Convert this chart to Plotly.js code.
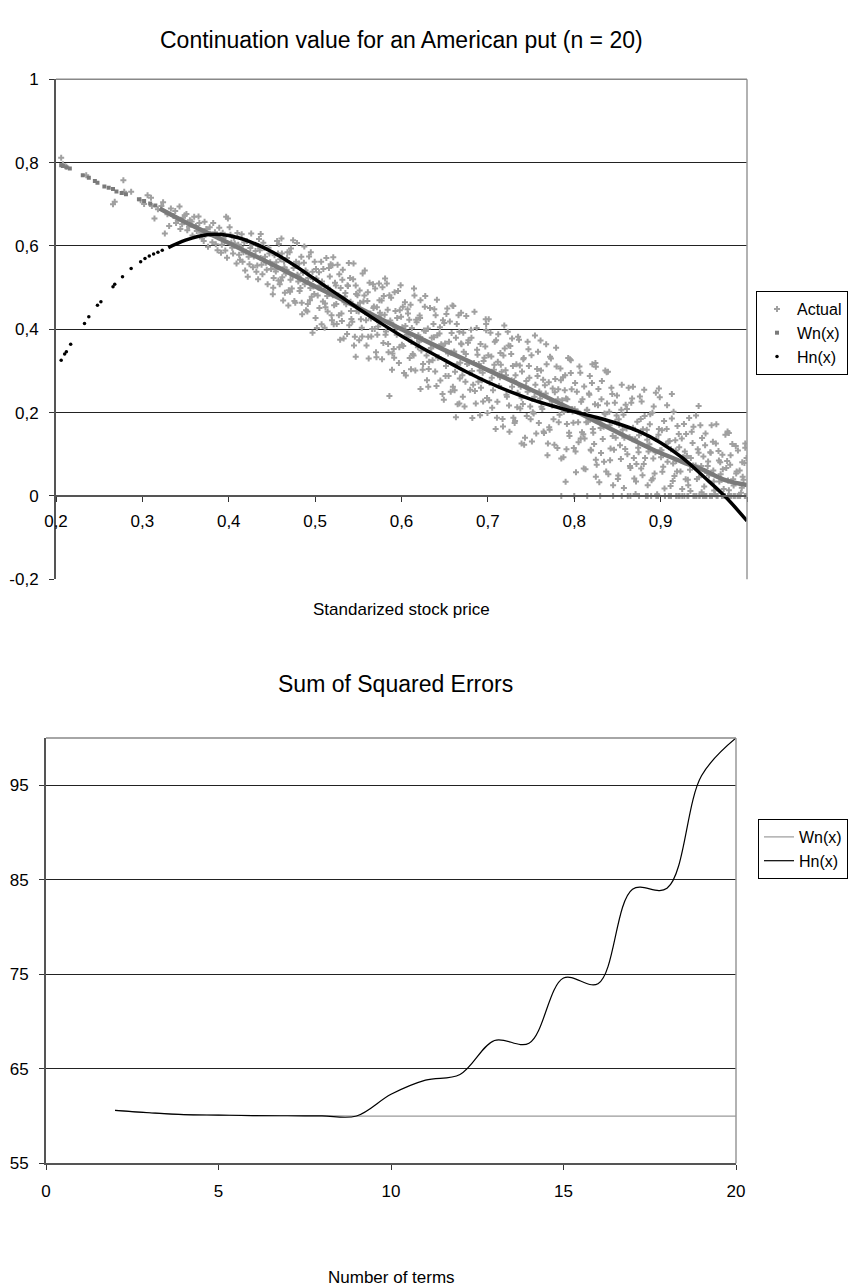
<!DOCTYPE html>
<html><head><meta charset="utf-8">
<script src="https://cdn.plot.ly/plotly-3.0.1.min.js"></script>
<style>html,body{margin:0;padding:0;background:#fff}#chart{width:850px;height:1288px}</style>
</head><body><div id="chart"></div>
<script>
// ---------- Top chart: continuation value (n = 20) ----------
// "Actual" cloud, read region by region from the reference (x = standardized price, y = value)
const actualX = [
0.206,0.208,0.212,0.235,0.266,0.268,0.278,0.279,0.287,0.298,0.310,0.311,0.314,0.322,0.326,0.331,0.333,0.336,0.339,0.343,
0.344,0.347,0.349,0.352,0.355,0.358,0.360,0.362,0.365,0.368,0.371,0.372,0.374,0.376,0.379,0.382,0.385,0.388,0.391,0.393,
0.395,0.397,0.398,0.399,0.401,0.403,0.404,0.406,0.409,0.411,0.413,0.415,0.417,0.419,0.421,0.422,0.423,0.425,0.426,0.428,
0.431,0.433,0.434,0.434,0.435,0.437,0.437,0.439,0.441,0.443,0.445,0.447,0.449,
0.302,0.306,0.318,0.324,0.329,0.338,0.341,0.346,0.351,0.354,0.357,0.363,0.366,0.369,0.373,0.378,0.381,0.384,0.387,0.389,
0.392,0.394,0.396,0.402,0.405,0.407,0.410,0.412,0.414,0.416,0.418,0.420,0.424,0.427,0.429,0.432,0.436,0.438,0.440,0.442,
0.444,0.446,0.448,
0.451,0.452,0.454,0.455,0.457,0.458,0.459, 0.461,0.462,0.464,0.465,0.467,0.468,0.469,
0.471,0.472,0.474,0.475,0.477,0.478,0.479, 0.481,0.482,0.484,0.485,0.487,0.488,0.489,
0.491,0.492,0.494,0.495,0.497,0.498,0.499, 0.501,0.502,0.504,0.505,0.507,0.508,0.509,
0.511,0.512,0.514,0.515,0.517,0.518,0.519, 0.521,0.522,0.524,0.525,0.527,0.528,0.529,
0.531,0.532,0.534,0.535,0.537,0.538,0.539, 0.541,0.542,0.544,0.545,0.547,0.548,0.549,
0.551,0.552,0.554,0.555,0.557,0.558,0.559, 0.561,0.562,0.564,0.565,0.567,0.568,0.569,
0.571,0.572,0.574,0.575,0.577,0.578,0.579, 0.581,0.582,0.584,0.585,0.587,0.588,0.589,
0.591,0.592,0.594,0.595,0.597,0.598,0.599, 0.601,0.602,0.604,0.605,0.607,0.608,0.609,
0.611,0.612,0.614,0.615,0.617,0.618,0.619, 0.621,0.622,0.624,0.625,0.627,0.628,0.629,
0.631,0.632,0.634,0.635,0.637,0.638,0.639, 0.641,0.642,0.644,0.645,0.647,0.648,0.649,
0.651,0.652,0.654,0.655,0.657,0.658,0.659, 0.661,0.662,0.664,0.665,0.667,0.668,0.669,
0.671,0.672,0.674,0.675,0.677,0.678,0.679, 0.681,0.682,0.684,0.685,0.687,0.688,0.689,
0.691,0.692,0.694,0.695,0.697,0.698,0.699, 0.701,0.702,0.704,0.705,0.707,0.708,0.709,
0.711,0.712,0.714,0.715,0.717,0.718,0.719, 0.721,0.722,0.724,0.725,0.727,0.728,0.729,
0.731,0.732,0.734,0.735,0.737,0.738,0.739, 0.741,0.742,0.744,0.745,0.747,0.748,0.749,
0.751,0.752,0.754,0.755,0.757,0.758,0.759, 0.761,0.762,0.764,0.765,0.767,0.768,0.769,
0.771,0.772,0.774,0.775,0.777,0.778,0.779, 0.781,0.782,0.784,0.785,0.787,0.788,0.789,
0.791,0.792,0.794,0.795,0.797,0.798,0.799, 0.801,0.802,0.804,0.805,0.807,0.808,0.809,
0.811,0.812,0.814,0.815,0.817,0.818,0.819, 0.821,0.822,0.824,0.825,0.827,0.828,0.829,
0.831,0.832,0.834,0.835,0.837,0.838,0.839, 0.841,0.842,0.844,0.845,0.847,0.848,0.849,
0.851,0.852,0.854,0.855,0.857,0.858,0.859, 0.861,0.862,0.864,0.865,0.867,0.868,0.869,
0.871,0.872,0.874,0.875,0.877,0.878,0.879, 0.881,0.882,0.884,0.885,0.887,0.888,0.889,
0.891,0.892,0.894,0.895,0.897,0.898,0.899, 0.901,0.902,0.904,0.905,0.907,0.908,0.909,
0.911,0.912,0.914,0.915,0.917,0.918,0.919, 0.921,0.922,0.924,0.925,0.927,0.928,0.929,
0.931,0.932,0.934,0.935,0.937,0.938,0.939, 0.941,0.942,0.944,0.945,0.947,0.948,0.949,
0.951,0.952,0.954,0.955,0.957,0.958,0.959, 0.961,0.962,0.964,0.965,0.967,0.968,0.969,
0.971,0.972,0.974,0.975,0.977,0.978,0.979, 0.981,0.982,0.984,0.985,0.987,0.988,0.989,
0.991,0.992,0.994,0.995,0.997,0.998,0.999,
0.4505,0.4515,0.453,0.4545,0.456,0.4575,0.4595, 0.4605,0.4615,0.463,0.4645,0.466,0.4675,0.4695,
0.4705,0.4715,0.473,0.4745,0.476,0.4775,0.4795, 0.4805,0.4815,0.483,0.4845,0.486,0.4875,0.4895,
0.4905,0.4915,0.493,0.4945,0.496,0.4975,0.4995, 0.5005,0.5015,0.503,0.5045,0.506,0.5075,0.5095,
0.5105,0.5115,0.513,0.5145,0.516,0.5175,0.5195, 0.5205,0.5215,0.523,0.5245,0.526,0.5275,0.5295,
0.5305,0.5315,0.533,0.5345,0.536,0.5375,0.5395, 0.5405,0.5415,0.543,0.5445,0.546,0.5475,0.5495,
0.5505,0.5515,0.553,0.5545,0.556,0.5575,0.5595, 0.5605,0.5615,0.563,0.5645,0.566,0.5675,0.5695,
0.5705,0.5715,0.573,0.5745,0.576,0.5775,0.5795, 0.5805,0.5815,0.583,0.5845,0.586,0.5875,0.5895,
0.5905,0.5915,0.593,0.5945,0.596,0.5975,0.5995, 0.6005,0.6015,0.603,0.6045,0.606,0.6075,0.6095,
0.6105,0.6115,0.613,0.6145,0.616,0.6175,0.6195, 0.6205,0.6215,0.623,0.6245,0.626,0.6275,0.6295,
0.6305,0.6315,0.633,0.6345,0.636,0.6375,0.6395, 0.6405,0.6415,0.643,0.6445,0.646,0.6475,0.6495,
0.6505,0.6515,0.653,0.6545,0.656,0.6575,0.6595, 0.6605,0.6615,0.663,0.6645,0.666,0.6675,0.6695,
0.6705,0.6715,0.673,0.6745,0.676,0.6775,0.6795, 0.6805,0.6815,0.683,0.6845,0.686,0.6875,0.6895,
0.6905,0.6915,0.693,0.6945,0.696,0.6975,0.6995, 0.7005,0.7015,0.703,0.7045,0.706,0.7075,0.7095,
0.7105,0.7115,0.713,0.7145,0.716,0.7175,0.7195, 0.7205,0.7215,0.723,0.7245,0.726,0.7275,0.7295,
0.7305,0.7315,0.733,0.7345,0.736,0.7375,0.7395, 0.7405,0.7415,0.743,0.7445,0.746,0.7475,0.7495,
0.7505,0.7515,0.753,0.7545,0.756,0.7575,0.7595, 0.7605,0.7615,0.763,0.7645,0.766,0.7675,0.7695,
0.7705,0.7715,0.773,0.7745,0.776,0.7775,0.7795, 0.7805,0.7815,0.783,0.7845,0.786,0.7875,0.7895,
0.7905,0.7915,0.793,0.7945,0.796,0.7975,0.7995, 0.8005,0.8015,0.803,0.8045,0.806,0.8075,0.8095,
0.8105,0.8115,0.813,0.8145,0.816,0.8175,0.8195, 0.8205,0.8215,0.823,0.8245,0.826,0.8275,0.8295,
0.8305,0.8315,0.833,0.8345,0.836,0.8375,0.8395, 0.8405,0.8415,0.843,0.8445,0.846,0.8475,0.8495,
0.8505,0.8515,0.853,0.8545,0.856,0.8575,0.8595, 0.8605,0.8615,0.863,0.8645,0.866,0.8675,0.8695,
0.8705,0.8715,0.873,0.8745,0.876,0.8775,0.8795, 0.8805,0.8815,0.883,0.8845,0.886,0.8875,0.8895,
0.8905,0.8915,0.893,0.8945,0.896,0.8975,0.8995, 0.9005,0.9015,0.903,0.9045,0.906,0.9075,0.9095,
0.9105,0.9115,0.913,0.9145,0.916,0.9175,0.9195, 0.9205,0.9215,0.923,0.9245,0.926,0.9275,0.9295,
0.9305,0.9315,0.933,0.9345,0.936,0.9375,0.9395, 0.9405,0.9415,0.943,0.9445,0.946,0.9475,0.9495,
0.9505,0.9515,0.953,0.9545,0.956,0.9575,0.9595, 0.9605,0.9615,0.963,0.9645,0.966,0.9675,0.9695,
0.9705,0.9715,0.973,0.9745,0.976,0.9775,0.9795, 0.9805,0.9815,0.983,0.9845,0.986,0.9875,0.9895,
0.9905,0.9915,0.993,0.9945,0.996,0.9975,0.9995,
0.497,0.547,0.586,0.663,0.667,0.520,0.574,0.622,0.660,0.669,0.698,0.728,0.746,0.796,0.825,0.836,0.868,0.898,0.913,0.944,
0.979,0.998,0.739,0.790,0.825,
0.785,0.800,0.815,0.830,0.845,0.855,0.865,0.875,0.885,0.895,0.905,0.912,0.918,0.925,0.932,0.938,0.945,0.952,0.958,0.965,
0.972,0.978,0.985,0.992,0.998
];
const actualY = [
0.812,0.796,0.790,0.770,0.700,0.706,0.758,0.730,0.730,0.710,0.716,0.696,0.666,0.696,0.630,0.648,0.690,0.672,0.655,0.695,
0.641,0.668,0.674,0.638,0.662,0.625,0.670,0.648,0.671,0.632,0.612,0.658,0.641,0.598,0.629,0.655,0.604,0.621,0.584,0.632,
0.611,0.670,0.572,0.666,0.645,0.608,0.596,0.620,0.558,0.603,0.567,0.628,0.585,0.541,0.612,0.526,0.574,0.595,0.630,0.549,
0.588,0.553,0.600,0.520,0.617,0.629,0.571,0.532,0.596,0.560,0.508,0.582,0.545,
0.701,0.722,0.688,0.705,0.676,0.684,0.661,0.652,0.677,0.646,0.659,0.636,0.655,0.618,0.627,0.645,0.609,0.633,0.590,0.644,
0.603,0.619,0.589,0.627,0.582,0.606,0.631,0.579,0.598,0.562,0.609,0.586,0.556,0.603,0.575,0.538,0.590,0.555,0.608,0.574,
0.543,0.596,0.561,
0.484,0.523,0.544,0.561,0.582,0.605,0.508, 0.618,0.525,0.563,0.488,0.543,0.585,0.457,
0.490,0.594,0.528,0.547,0.464,0.562,0.607, 0.527,0.492,0.574,0.436,0.560,0.508,0.541,
0.443,0.523,0.470,0.585,0.538,0.503,0.485, 0.545,0.403,0.500,0.451,0.562,0.515,0.467,
0.404,0.453,0.480,0.500,0.527,0.556,0.434, 0.573,0.458,0.505,0.413,0.481,0.532,0.375,
0.420,0.543,0.465,0.487,0.389,0.504,0.559, 0.466,0.425,0.520,0.361,0.505,0.444,0.482,
0.374,0.464,0.404,0.534,0.481,0.441,0.422, 0.489,0.330,0.438,0.383,0.508,0.455,0.401,
0.333,0.387,0.417,0.440,0.469,0.501,0.367, 0.522,0.395,0.447,0.345,0.421,0.476,0.303,
0.353,0.489,0.403,0.427,0.319,0.446,0.506, 0.405,0.360,0.465,0.289,0.448,0.381,0.423,
0.304,0.403,0.337,0.481,0.423,0.379,0.357, 0.433,0.257,0.377,0.317,0.454,0.396,0.337,
0.262,0.322,0.355,0.380,0.413,0.448,0.299, 0.471,0.332,0.390,0.277,0.360,0.422,0.231,
0.288,0.437,0.342,0.370,0.250,0.391,0.457, 0.347,0.298,0.413,0.220,0.394,0.320,0.366,
0.238,0.346,0.274,0.432,0.368,0.319,0.295, 0.380,0.187,0.319,0.252,0.403,0.339,0.274,
0.194,0.260,0.296,0.324,0.359,0.398,0.235, 0.424,0.272,0.335,0.212,0.303,0.370,0.161,
0.226,0.388,0.285,0.315,0.185,0.337,0.409, 0.290,0.238,0.361,0.154,0.341,0.262,0.312,
0.175,0.290,0.213,0.382,0.313,0.262,0.236, 0.328,0.123,0.263,0.192,0.352,0.284,0.215,
0.131,0.201,0.238,0.267,0.305,0.346,0.175, 0.373,0.214,0.279,0.151,0.246,0.316,0.098,
0.165,0.334,0.227,0.258,0.123,0.281,0.356, 0.232,0.177,0.306,0.090,0.285,0.202,0.254,
0.112,0.232,0.152,0.328,0.256,0.203,0.176, 0.271,0.057,0.203,0.129,0.296,0.226,0.153,
0.066,0.138,0.177,0.207,0.246,0.288,0.111, 0.316,0.152,0.220,0.087,0.185,0.257,0.033,
0.103,0.276,0.166,0.198,0.059,0.222,0.298, 0.170,0.114,0.245,0.026,0.224,0.140,0.193,
0.049,0.171,0.089,0.267,0.195,0.140,0.113, 0.209,0.000,0.141,0.067,0.234,0.164,0.091,
0.005,0.077,0.116,0.146,0.185,0.227,0.050, 0.255,0.091,0.159,0.026,0.124,0.196,0.000,
0.042,0.215,0.105,0.137,0.000,0.161,0.237, 0.110,0.058,0.180,0.000,0.161,0.082,0.131,
0.000,0.112,0.036,0.202,0.134,0.084,0.059, 0.149,0.000,0.086,0.017,0.173,0.107,0.040,
0.000,0.026,0.063,0.091,0.127,0.166,0.000, 0.193,0.041,0.104,0.000,0.072,0.139,0.000,
0.000,0.150,0.055,0.083,0.000,0.104,0.170, 0.061,0.013,0.126,0.000,0.108,0.035,0.081,
0.000,0.064,0.000,0.147,0.084,0.037,0.014, 0.098,0.000,0.040,0.000,0.120,0.059,0.000,
0.000,0.000,0.020,0.046,0.079,0.116,0.000,
0.555,0.500,0.578,0.539,0.612,0.517,0.568, 0.517,0.582,0.469,0.549,0.534,0.571,0.494,
0.585,0.519,0.498,0.614,0.468,0.553,0.531, 0.515,0.558,0.499,0.464,0.536,0.599,0.446,
0.536,0.461,0.575,0.499,0.478,0.521,0.562, 0.427,0.522,0.481,0.537,0.505,0.412,0.545,
0.504,0.462,0.571,0.443,0.547,0.487,0.422, 0.482,0.412,0.512,0.461,0.555,0.434,0.499,
0.438,0.519,0.378,0.479,0.460,0.506,0.410, 0.523,0.444,0.418,0.558,0.382,0.485,0.458,
0.443,0.493,0.424,0.383,0.467,0.541,0.361, 0.468,0.382,0.512,0.426,0.401,0.451,0.498,
0.345,0.453,0.407,0.470,0.434,0.328,0.480, 0.435,0.387,0.510,0.365,0.482,0.415,0.342,
0.411,0.332,0.444,0.387,0.492,0.357,0.430, 0.363,0.454,0.295,0.408,0.387,0.438,0.331,
0.459,0.370,0.341,0.498,0.301,0.417,0.386, 0.370,0.427,0.349,0.303,0.397,0.480,0.278,
0.402,0.305,0.451,0.354,0.326,0.381,0.434, 0.264,0.386,0.333,0.405,0.364,0.245,0.415,
0.366,0.312,0.450,0.288,0.419,0.344,0.262, 0.343,0.254,0.380,0.316,0.434,0.282,0.364,
0.290,0.392,0.215,0.341,0.317,0.374,0.255, 0.399,0.300,0.267,0.442,0.222,0.351,0.317,
0.301,0.365,0.278,0.227,0.332,0.424,0.199, 0.338,0.230,0.392,0.284,0.254,0.315,0.374,
0.188,0.322,0.264,0.343,0.298,0.167,0.354, 0.302,0.243,0.394,0.217,0.360,0.278,0.188,
0.276,0.180,0.316,0.248,0.375,0.210,0.299, 0.221,0.331,0.140,0.276,0.250,0.312,0.184,
0.338,0.233,0.198,0.385,0.150,0.288,0.251, 0.234,0.301,0.209,0.155,0.266,0.364,0.126,
0.273,0.159,0.330,0.217,0.184,0.249,0.311, 0.115,0.256,0.195,0.278,0.230,0.093,0.290,
0.234,0.173,0.331,0.144,0.295,0.209,0.115, 0.208,0.107,0.250,0.177,0.311,0.138,0.232,
0.148,0.263,0.064,0.206,0.178,0.243,0.109, 0.271,0.161,0.125,0.319,0.075,0.218,0.181,
0.163,0.232,0.137,0.082,0.196,0.297,0.052, 0.202,0.086,0.260,0.144,0.111,0.178,0.241,
0.041,0.184,0.122,0.207,0.159,0.019,0.219, 0.162,0.100,0.260,0.072,0.224,0.136,0.042,
0.136,0.035,0.178,0.105,0.239,0.066,0.160, 0.077,0.192,0.000,0.135,0.107,0.172,0.038,
0.200,0.090,0.054,0.248,0.004,0.147,0.110, 0.093,0.158,0.070,0.018,0.124,0.218,0.000,
0.132,0.024,0.186,0.078,0.048,0.109,0.168, 0.000,0.117,0.059,0.138,0.093,0.000,0.149,
0.096,0.039,0.187,0.012,0.154,0.073,0.000, 0.073,0.000,0.112,0.045,0.170,0.009,0.095,
0.023,0.122,0.000,0.072,0.049,0.105,0.000, 0.130,0.035,0.004,0.172,0.000,0.085,0.052,
0.039,0.099,0.017,0.000,0.067,0.155,0.000, 0.075,0.000,0.125,0.025,0.000,0.054,0.109,
0.000,0.061,0.008,0.081,0.039,0.000,0.091,
0.392,0.334,0.240,0.189,0.222,0.554,0.510,0.470,0.456,0.440,0.413,0.378,0.370,0.326,0.310,0.301,0.262,0.258,0.245,0.216,
0.151,0.126,0.126,0.034,0.046,
0,0,0,0,0,0,0,0,0,0,0,0,0,0,0,0,0,0,0,0,
0,0,0,0,0
];

// Wn(x): sparse points on the left, continuous curve afterwards
const wnDotX = [0.206,0.208,0.212,0.216,0.231,0.238,0.245,0.248,0.256,0.261,0.266,0.270,0.276,0.281,0.296,0.302,0.309,0.315];
const wnDotY = [0.794,0.792,0.789,0.786,0.770,0.764,0.756,0.752,0.743,0.740,0.737,0.731,0.727,0.724,0.712,0.708,0.702,0.697];
const wnCurveX = [0.320,0.350,0.375,0.400,0.450,0.500,0.550,0.600,0.650,0.700,0.750,0.800,0.850,0.900,0.925,0.950,0.975,1.000];
const wnCurveY = [0.690,0.657,0.632,0.607,0.556,0.503,0.452,0.400,0.350,0.302,0.255,0.205,0.153,0.103,0.082,0.062,0.038,0.026];

// Hn(x): sparse points on the left, continuous curve afterwards
const hnDotX = [0.206,0.210,0.212,0.217,0.233,0.238,0.248,0.252,0.266,0.268,0.277,0.287,0.298,0.303,0.308,0.313,0.318,0.323];
const hnDotY = [0.326,0.341,0.346,0.364,0.414,0.430,0.458,0.466,0.502,0.508,0.526,0.546,0.562,0.570,0.576,0.581,0.585,0.590];
const hnCurveX = [0.330,0.350,0.375,0.400,0.425,0.450,0.475,0.500,0.525,0.550,0.575,0.600,0.625,0.650,0.675,0.700,0.725,0.750,0.775,0.800,0.825,0.850,0.875,0.900,0.925,0.950,0.975,1.000];
const hnCurveY = [0.596,0.614,0.627,0.625,0.610,0.586,0.555,0.520,0.485,0.450,0.416,0.384,0.354,0.326,0.298,0.273,0.251,0.232,0.216,0.202,0.189,0.174,0.155,0.128,0.092,0.046,-0.002,-0.060];

const topXTickVals = [0.2,0.3,0.4,0.5,0.6,0.7,0.8,0.9,1.0];
const topXTickText = ['0,2','0,3','0,4','0,5','0,6','0,7','0,8','0,9',''];
const topYTickVals = [-0.2,0,0.2,0.4,0.6,0.8,1];
const topYTickText = ['-0,2','0','0,2','0,4','0,6','0,8','1'];

// ---------- Bottom chart: sum of squared errors ----------
const nTerms = [2,3,4,5,6,7,8,9,10,11,12,13,14,15,16,17,18,19,20];
const sseWn = [60.6,60.35,60.15,60.1,60.05,60.03,60.02,60.0,60.0,60.0,60.0,60.0,60.0,60.0,60.0,60.0,60.0,60.0,60.0];
const sseHn = [60.6,60.35,60.15,60.1,60.05,60.03,60.02,60.0,62.3,63.8,64.4,68.0,67.7,74.6,74.0,84.0,84.1,96.0,100.0];
const botXTickVals = [0,5,10,15,20];
const botYTickVals = [55,65,75,85,95];

// ---------- layout geometry (pixels of the 850x1288 page) ----------
const W = 850, H = 1288;
const FONT = 'Liberation Sans, Arial, sans-serif';
const px = v => v / W, py = v => 1 - v / H;
const topDomY = [py(579.3), py(79.3)];
const topYRange = [-0.2, 1];
const xAxisPos = topDomY[0] + (topDomY[1] - topDomY[0]) * (0 - topYRange[0]) / (topYRange[1] - topYRange[0]);

const traces = [
  {type:'scatter', mode:'markers', name:'Actual', x:actualX, y:actualY, xaxis:'x', yaxis:'y', legend:'legend',
   marker:{symbol:'cross', size:5, color:'#a0a0a0'}},
  {type:'scatter', mode:'lines', name:'Wn(x)', x:wnCurveX, y:wnCurveY, xaxis:'x', yaxis:'y', showlegend:false,
   line:{color:'#7a7a7a', width:4.5, shape:'spline'}},
  {type:'scatter', mode:'markers', name:'Wn(x)', x:wnDotX, y:wnDotY, xaxis:'x', yaxis:'y', legend:'legend',
   marker:{symbol:'square', size:4, color:'#7a7a7a'}},
  {type:'scatter', mode:'lines', name:'Hn(x)', x:hnCurveX, y:hnCurveY, xaxis:'x', yaxis:'y', showlegend:false,
   line:{color:'#000', width:3.5, shape:'spline'}},
  {type:'scatter', mode:'markers', name:'Hn(x)', x:hnDotX, y:hnDotY, xaxis:'x', yaxis:'y', legend:'legend',
   marker:{symbol:'circle', size:3.5, color:'#000'}},
  {type:'scatter', mode:'lines', name:'Wn(x)', x:nTerms, y:sseWn, xaxis:'x2', yaxis:'y2', legend:'legend2',
   line:{color:'#9a9a9a', width:1.2, shape:'spline'}},
  {type:'scatter', mode:'lines', name:'Hn(x)', x:nTerms, y:sseHn, xaxis:'x2', yaxis:'y2', legend:'legend2',
   line:{color:'#000', width:1.2, shape:'spline'}}
];

const axisFont = {family:FONT, size:17, color:'#000'};
const legendFont = {family:FONT, size:16, color:'#000'};
const layout = {
  width:W, height:H, margin:{l:0,r:0,t:0,b:0}, paper_bgcolor:'#fff', plot_bgcolor:'#fff',
  separators:', ', font:{family:FONT, size:17, color:'#000'}, showlegend:true, hovermode:false,
  xaxis:{domain:[px(56), px(747)], range:[0.2,1.0], anchor:'free', position:xAxisPos,
         tickvals:topXTickVals, ticktext:topXTickText, ticks:'outside', ticklen:5, tickcolor:'#333', tickwidth:1,
         showgrid:false, zeroline:false, showline:true, linecolor:'#555', linewidth:2, tickfont:axisFont, ticklabelstandoff:5},
  yaxis:{domain:topDomY, range:topYRange, anchor:'x', tickvals:topYTickVals, ticktext:topYTickText,
         ticks:'outside', ticklen:5, tickcolor:'#333', showgrid:true, gridcolor:'#222', gridwidth:1, zeroline:false,
         showline:true, linecolor:'#555', linewidth:2, tickfont:axisFont, ticklabelstandoff:7},
  xaxis2:{domain:[px(46), px(736)], range:[0,20], anchor:'y2', tickvals:botXTickVals, ticks:'outside', ticklen:5,
          tickcolor:'#333', showgrid:false, zeroline:false, showline:true, linecolor:'#555', linewidth:2,
          tickfont:axisFont, ticklabelstandoff:6},
  yaxis2:{domain:[py(1163.3), py(738)], range:[55,100], anchor:'x2', tickvals:botYTickVals, ticks:'outside', ticklen:5,
          tickcolor:'#333', showgrid:true, gridcolor:'#222', gridwidth:1, zeroline:false, showline:true,
          linecolor:'#555', linewidth:2, tickfont:axisFont, ticklabelstandoff:7},
  legend:{x:px(848), xanchor:'right', y:py(291), yanchor:'top', bgcolor:'#fff', bordercolor:'#000', borderwidth:1,
          font:legendFont, tracegroupgap:0},
  legend2:{x:px(848), xanchor:'right', y:py(819), yanchor:'top', bgcolor:'#fff', bordercolor:'#000', borderwidth:1,
          font:legendFont, tracegroupgap:0},
  shapes:[
    {type:'line', xref:'x domain', yref:'y domain', x0:1, x1:1, y0:0, y1:1, line:{color:'#999', width:1.5}},
    {type:'line', xref:'x domain', yref:'y domain', x0:0, x1:1, y0:1, y1:1, line:{color:'#888', width:1.5}},
    {type:'line', xref:'x2 domain', yref:'y2 domain', x0:1, x1:1, y0:0, y1:1, line:{color:'#999', width:1.5}},
    {type:'line', xref:'x2 domain', yref:'y2 domain', x0:0, x1:1, y0:1, y1:1, line:{color:'#888', width:1.5}}
  ],
  annotations:[
    {text:'Continuation value for an American put (n = 20)', xref:'paper', yref:'paper', x:px(401), y:py(40),
     xanchor:'center', yanchor:'middle', showarrow:false, font:{family:FONT, size:23, color:'#000'}},
    {text:'Standarized stock price', xref:'paper', yref:'paper', x:px(401), y:py(609),
     xanchor:'center', yanchor:'middle', showarrow:false, font:{family:FONT, size:17, color:'#000'}},
    {text:'Sum of Squared Errors', xref:'paper', yref:'paper', x:px(395), y:py(684),
     xanchor:'center', yanchor:'middle', showarrow:false, font:{family:FONT, size:23, color:'#000'}},
    {text:'Number of terms', xref:'paper', yref:'paper', x:px(391), y:py(1277),
     xanchor:'center', yanchor:'middle', showarrow:false, font:{family:FONT, size:17, color:'#000'}}
  ]
};

Plotly.newPlot('chart', traces, layout, {staticPlot:true, displayModeBar:false});
</script></body></html>
